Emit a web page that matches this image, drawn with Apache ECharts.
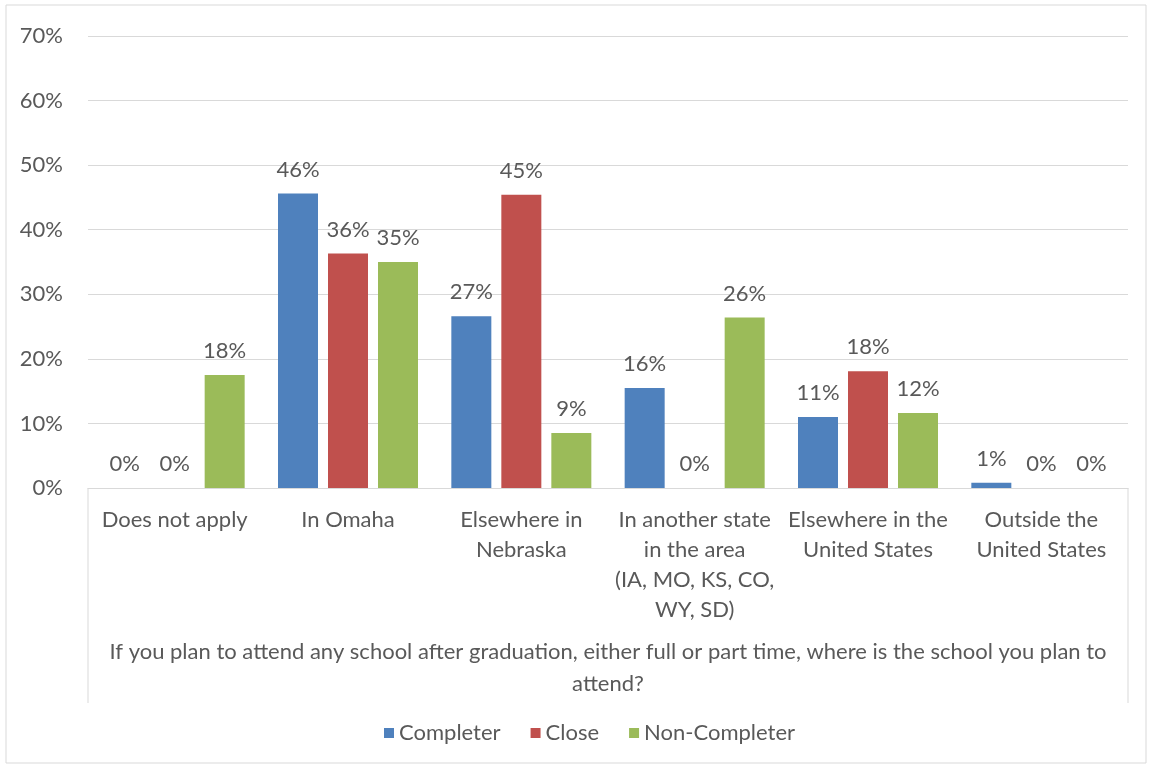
<!DOCTYPE html>
<html>
<head>
<meta charset="utf-8">
<script src="https://cdn.jsdelivr.net/npm/echarts@6/dist/echarts.min.js"></script>
<style>
html,body{margin:0;padding:0;background:#fff;}
#c{width:1152px;height:769px;}
</style>
</head>
<body>
<div id="c"></div>
<script>
const categories = [
  "Does not apply",
  "In Omaha",
  "Elsewhere in\nNebraska",
  "In another state\nin the area\n(IA, MO, KS, CO,\nWY, SD)",
  "Elsewhere in the\nUnited States",
  "Outside the\nUnited States"
];
const seriesNames = ["Completer", "Close", "Non-Completer"];
const completer = [0, 45.6, 26.6, 15.5, 11.0, 0.8];
const close = [0, 36.3, 45.4, 0, 18.1, 0];
const nonCompleter = [17.5, 35.0, 8.5, 26.4, 11.6, 0];
const yTicks = [0, 10, 20, 30, 40, 50, 60, 70];
const axisTitle = "If you plan to attend any school after graduation, either full or part time, where is the school you plan to\nattend?";

const FONT = "Lato";
const FS = 22;
const TXT = "#595959";
const colors = ["#4F81BD", "#C0504D", "#9BBB59"];

const chart = echarts.init(document.getElementById('c'), null, {renderer: 'canvas'});

function mk(name, data, color) {
  return {
    name: name,
    type: 'bar',
    data: data,
    barWidth: 40,
    barGap: '25%',
    itemStyle: {color: color},
    label: {
      show: true,
      position: 'top',
      distance: 13,
      color: TXT,
      fontFamily: FONT,
      fontSize: FS,
      formatter: p => Math.round(p.value) + '%'
    }
  };
}

chart.setOption({
  animation: false,
  backgroundColor: '#fff',
  color: colors,
  grid: {left: 88, right: 24, top: 36, bottom: 281, containLabel: false},
  xAxis: {
    type: 'category',
    data: categories,
    axisLine: {show: true, lineStyle: {color: '#D9D9D9', width: 1}},
    axisTick: {show: false},
    axisLabel: {
      interval: 0,
      color: TXT,
      fontFamily: FONT,
      fontSize: FS,
      lineHeight: 30,
      margin: 17
    },
    name: axisTitle,
    nameLocation: 'middle',
    nameGap: 148,
    nameTextStyle: {color: TXT, fontFamily: FONT, fontSize: FS, lineHeight: 32}
  },
  yAxis: {
    type: 'value',
    min: yTicks[0],
    max: yTicks[yTicks.length - 1],
    interval: 10,
    axisLine: {show: false},
    axisTick: {show: false},
    splitLine: {lineStyle: {color: '#D9D9D9', width: 1}},
    axisLabel: {
      color: TXT,
      fontFamily: FONT,
      fontSize: FS,
      margin: 25,
      formatter: v => v + '%'
    }
  },
  legend: {
    data: seriesNames,
    bottom: 20,
    left: 379,
    icon: 'rect',
    itemWidth: 10,
    itemHeight: 10,
    itemGap: 30,
    textStyle: {color: TXT, fontFamily: FONT, fontSize: FS}
  },
  graphic: [
    {type: 'rect', shape: {x: 6, y: 5, width: 1140, height: 758}, style: {fill: 'none', stroke: '#D9D9D9', lineWidth: 1}, silent: true},
    {type: 'line', shape: {x1: 88, y1: 488, x2: 88, y2: 703}, style: {stroke: '#D9D9D9', lineWidth: 1}, silent: true},
    {type: 'line', shape: {x1: 1128, y1: 488, x2: 1128, y2: 703}, style: {stroke: '#D9D9D9', lineWidth: 1}, silent: true}
  ],
  series: [
    mk(seriesNames[0], completer, colors[0]),
    mk(seriesNames[1], close, colors[1]),
    mk(seriesNames[2], nonCompleter, colors[2])
  ]
});
</script>
</body>
</html>
